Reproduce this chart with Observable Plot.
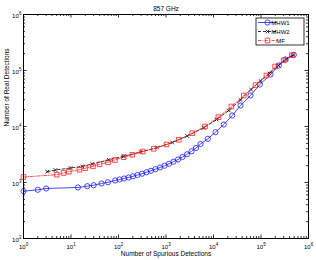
<!DOCTYPE html>
<html><head><meta charset="utf-8">
<script src="https://cdn.jsdelivr.net/npm/d3@7"></script>
<script src="https://cdn.jsdelivr.net/npm/@observablehq/plot@0.6"></script>
<style>
body{margin:0;background:#fff}
svg{font-family:"Liberation Sans",Arial,Helvetica,sans-serif}
</style>
</head><body><div id="chart"></div>
<script>
const title = "857 GHz";
const xLabel = "Number of Spurious Detections";
const yLabel = "Number of Real Detections";
const seriesNames = ["MHW1", "MHW2", "MF"];

const mhw1X = [1, 2, 3, 14, 22, 30, 44, 60, 85, 105, 131, 163, 202, 251, 313, 388, 483, 601, 748, 930, 1157, 1439, 1790, 2225, 2768, 3443, 4283, 5324, 7586, 11015, 16480, 24770, 37000, 60100, 94400, 158500, 237000, 328000, 491000];
const mhw1Y = [700, 741, 782, 815, 860, 895, 960, 1012, 1086, 1132, 1178, 1227, 1290, 1361, 1436, 1521, 1618, 1729, 1853, 1995, 2158, 2352, 2574, 2853, 3188, 3608, 4130, 4870, 6030, 7910, 10860, 15710, 23700, 35800, 56200, 84800, 122800, 157200, 190600];

const mhw2X = [3.16, 4.7, 9.8, 17.2, 27.9, 62.5, 129, 290, 653, 1352, 2795, 6250, 11560, 21000, 37000, 61550, 97600, 151000, 233400, 344000, 483000];
const mhw2Y = [1560, 1671, 1815, 1946, 2138, 2541, 2938, 3508, 4217, 5179, 6765, 9480, 13340, 19320, 29720, 45800, 65000, 88400, 122800, 160300, 189200];

const mfX = [1, 5, 7, 9, 15, 20, 29, 40, 60, 84, 129, 194, 325, 553, 1025, 1860, 3563, 6625, 12680, 23820, 43460, 76560, 130000, 198200, 300600, 447600];
const mfY = [1253, 1377, 1479, 1560, 1687, 1800, 1946, 2113, 2294, 2522, 2831, 3124, 3580, 4000, 4772, 5791, 7592, 10000, 14660, 22750, 35800, 54800, 81430, 117800, 152000, 188300];

const xExponents = [0, 1, 2, 3, 4, 5, 6];
const yExponents = [2, 3, 4, 5, 6];

const mhw1 = mhw1X.map((x, i) => ({x, y: mhw1Y[i]}));
const mhw2 = mhw2X.map((x, i) => ({x, y: mhw2Y[i]}));
const mf = mfX.map((x, i) => ({x, y: mfY[i]}));

const minorOf = exps => exps.slice(0, -1).flatMap(e => [2,3,4,5,6,7,8,9].map(k => k * 10 ** e));
const xMajor = xExponents.map(e => 10 ** e), yMajor = yExponents.map(e => 10 ** e);
const xMinor = minorOf(xExponents), yMinor = minorOf(yExponents);

const W = 316, H = 260, mL = 23, mR = 8, mT = 14, mB = 22;
const iw = W - mL - mR, ih = H - mT - mB;
const majLen = 3.5, minLen = 2;
const fs = 6.5, tfs = 6, sfs = 4.5;

const blue = "#1a1aff", red = "#ff2020", black = "#000";

const plot = Plot.plot({
  width: W, height: H,
  marginLeft: mL, marginRight: mR, marginTop: mT, marginBottom: mB,
  x: {type: "log", domain: [1, 1e6], axis: null},
  y: {type: "log", domain: [100, 1e6], axis: null},
  style: {fontFamily: '"Liberation Sans", Arial, sans-serif', background: "#fff"},
  marks: [
    Plot.ruleX(xMajor, {x: d => d, insetTop: ih - majLen, stroke: black, strokeWidth: 0.8}),
    Plot.ruleX(xMajor, {x: d => d, insetBottom: ih - majLen, stroke: black, strokeWidth: 0.8}),
    Plot.ruleX(xMinor, {x: d => d, insetTop: ih - minLen, stroke: black, strokeWidth: 0.8}),
    Plot.ruleX(xMinor, {x: d => d, insetBottom: ih - minLen, stroke: black, strokeWidth: 0.8}),
    Plot.ruleY(yMajor, {y: d => d, insetRight: iw - majLen, stroke: black, strokeWidth: 0.8}),
    Plot.ruleY(yMajor, {y: d => d, insetLeft: iw - majLen, stroke: black, strokeWidth: 0.8}),
    Plot.ruleY(yMinor, {y: d => d, insetRight: iw - minLen, stroke: black, strokeWidth: 0.8}),
    Plot.ruleY(yMinor, {y: d => d, insetLeft: iw - minLen, stroke: black, strokeWidth: 0.8}),
    Plot.text(xExponents, {x: d => 10 ** d, frameAnchor: "bottom", dy: 10, dx: -1.2, text: () => "10", fontSize: tfs, fill: black}),
    Plot.text(xExponents, {x: d => 10 ** d, frameAnchor: "bottom", dy: 7, dx: 2.2, text: d => String(d), textAnchor: "start", fontSize: sfs, fill: black}),
    Plot.text(yExponents, {y: d => 10 ** d, frameAnchor: "left", dx: -4.7, dy: 2, text: () => "10", textAnchor: "end", fontSize: tfs, fill: black}),
    Plot.text(yExponents, {y: d => 10 ** d, frameAnchor: "left", dx: -4.5, dy: -1.2, text: d => String(d), textAnchor: "start", fontSize: sfs, fill: black}),
    Plot.text([title], {frameAnchor: "top", dy: -8, fontSize: fs, fill: black}),
    Plot.text([xLabel], {frameAnchor: "bottom", dy: 17, fontSize: fs, fill: black}),
    Plot.text([yLabel], {frameAnchor: "left", dx: -16.5, rotate: -90, fontSize: fs, fill: black}),
    Plot.line(mhw1, {x: "x", y: "y", stroke: blue, strokeWidth: 0.8}),
    Plot.dot(mhw1, {x: "x", y: "y", r: 2.6, stroke: blue, strokeWidth: 0.8, fill: "none"}),
    Plot.line(mhw2, {x: "x", y: "y", stroke: black, strokeWidth: 0.8, strokeDasharray: "3,2"}),
    Plot.dot(mhw2, {x: "x", y: "y", symbol: "times", r: 1.8, stroke: black, strokeWidth: 0.8}),
    Plot.line(mf, {x: "x", y: "y", stroke: red, strokeWidth: 0.8, strokeDasharray: "3,1.5,0.8,1.5"}),
    Plot.dot(mf, {x: "x", y: "y", symbol: "square", r: 2.6, stroke: red, strokeWidth: 0.8, fill: "none"}),
    Plot.frame({stroke: black, strokeWidth: 1})
  ]
});

document.getElementById("chart").appendChild(plot);

const svg = d3.select(plot);
const lg = svg.append("g");
const lx = 256, ly = 18, lw = 48, lh = 27;
lg.append("rect").attr("x", lx).attr("y", ly).attr("width", lw).attr("height", lh)
  .attr("fill", "#fff").attr("stroke", black).attr("stroke-width", 0.8);
const styles = [
  {stroke: blue, dash: null, sym: d3.symbolCircle, r: 2.6},
  {stroke: black, dash: "3,2", sym: d3.symbolTimes, r: 1.8},
  {stroke: red, dash: "3,1.5,0.8,1.5", sym: d3.symbolSquare, r: 2.6}
];
seriesNames.forEach((name, i) => {
  const yy = ly + 4.5 + i * 9;
  const s = styles[i];
  lg.append("line").attr("x1", lx + 2).attr("x2", lx + 21).attr("y1", yy).attr("y2", yy)
    .attr("stroke", s.stroke).attr("stroke-width", 0.8).attr("stroke-dasharray", s.dash);
  lg.append("path").attr("transform", `translate(${lx + 11.5},${yy})`)
    .attr("d", d3.symbol(s.sym, Math.PI * s.r * s.r)())
    .attr("fill", "none").attr("stroke", s.stroke).attr("stroke-width", 0.8);
  lg.append("text").attr("x", lx + 24.5).attr("y", yy).attr("dy", "0.35em")
    .attr("font-size", 6).attr("fill", black).text(name);
});
</script>
</body></html>
